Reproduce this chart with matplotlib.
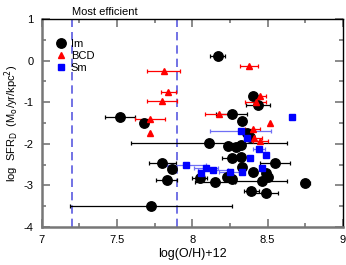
"""
SFR density vs. oxygen abundance for Im, BCD and Sm galaxies
"""
import matplotlib
matplotlib.use('Agg')
import matplotlib.pyplot as plt
from matplotlib.ticker import MultipleLocator

plt.rcParams['font.family'] = ['Liberation Sans', 'DejaVu Sans']
plt.rcParams['axes.unicode_minus'] = False

# Im galaxies: log(O/H)+12, log SFR_D, x error
im_oh = [8.17, 7.52, 7.68, 8.40, 8.435, 8.26, 8.33, 8.36, 8.38, 8.11, 8.24, 8.29,
         8.32, 8.26, 8.32, 8.55, 8.33, 8.40, 8.49, 8.50, 7.80, 7.865, 7.83, 8.05,
         8.15, 8.23, 8.26, 8.46, 8.75, 8.39, 8.49, 7.725]
im_sfr = [0.12, -1.36, -1.50, -0.84, -1.06, -1.27, -1.44, -1.75, -1.84, -1.98, -2.05, -2.07,
          -2.03, -2.35, -2.31, -2.47, -2.55, -2.67, -2.71, -2.79, -2.45, -2.61, -2.87, -2.81,
          -2.91, -2.79, -2.85, -2.89, -2.95, -3.13, -3.19, -3.50]
im_err = [0.05, 0.10, 0.0, 0.0, 0.08, 0.10, 0.0, 0.0, 0.0, 0.52, 0.0, 0.0,
          0.0, 0.06, 0.0, 0.10, 0.0, 0.0, 0.0, 0.0, 0.09, 0.0, 0.07, 0.05,
          0.13, 0.0, 0.0, 0.17, 0.03, 0.05, 0.08, 0.54]

# BCD galaxies
bcd_oh = [7.81, 7.84, 7.80, 7.72, 7.72, 8.375, 8.45, 8.42, 8.175, 8.515, 8.40, 8.41, 8.45]
bcd_sfr = [-0.25, -0.76, -0.97, -1.40, -1.75, -0.12, -0.84, -0.99, -1.27, -1.49, -1.63, -1.85, -1.93]
bcd_err = [0.11, 0.05, 0.10, 0.10, 0.0, 0.06, 0.04, 0.07, 0.09, 0.0, 0.05, 0.05, 0.05]

# Sm galaxies
sm_oh = [8.66, 8.32, 8.44, 8.49, 8.38, 8.46, 8.33, 8.36, 7.96, 8.09, 8.06, 8.14, 8.25]
sm_sfr = [-1.35, -1.69, -2.13, -2.27, -2.33, -2.59, -2.67, -1.86, -2.51, -2.59, -2.69, -2.62, -2.67]
sm_err = [0.0, 0.20, 0.04, 0.0, 0.0, 0.0, 0.0, 0.0, 0.13, 0.08, 0.0, 0.10, 0.07]

efficient_lines = [7.2, 7.9]

fig = plt.figure(figsize=(3.46, 2.65), dpi=100)
ax = fig.add_axes([0.121, 0.143, 0.870, 0.785])

for x in efficient_lines:
    ax.axvline(x, color='#5a5ae0', linestyle=(0, (5, 3)), linewidth=1.2, zorder=1)

ax.errorbar(im_oh, im_sfr, xerr=im_err, fmt='none', ecolor='black', elinewidth=0.9,
            capsize=1.5, capthick=0.9, zorder=2)
ax.errorbar(bcd_oh, bcd_sfr, xerr=bcd_err, fmt='none', ecolor='red', elinewidth=0.9,
            capsize=1.5, capthick=0.9, zorder=2)
ax.errorbar(sm_oh, sm_sfr, xerr=sm_err, fmt='none', ecolor='#6f6ff5', elinewidth=0.9,
            capsize=1.5, capthick=0.9, zorder=2)

ax.plot(im_oh, im_sfr, 'o', color='black', markersize=6.8, linestyle='none', label='Im', zorder=3)
ax.plot(bcd_oh, bcd_sfr, '^', color='red', markersize=5, linestyle='none', label='BCD', zorder=4)
ax.plot(sm_oh, sm_sfr, 's', color='blue', markersize=4.5, linestyle='none', label='Sm', zorder=4)

ax.set_xlim(7, 9)
ax.set_ylim(-4, 1)
ax.xaxis.set_minor_locator(MultipleLocator(0.25))
ax.yaxis.set_major_locator(MultipleLocator(1))
ax.yaxis.set_minor_locator(MultipleLocator(0.5))
ax.set_xticks([7, 7.5, 8, 8.5, 9])
ax.set_xticklabels(['7', '7.5', '8', '8.5', '9'])

ax.tick_params(which='both', direction='in', top=True, right=True, labelsize=8, pad=6)
ax.tick_params(which='major', length=6, width=1.2, color='#777777')
ax.tick_params(which='minor', length=3, width=1.2, color='#777777')

for side in ['left', 'bottom']:
    ax.spines[side].set_color('#777777')
    ax.spines[side].set_linewidth(1.8)
for side in ['top', 'right']:
    ax.spines[side].set_color('black')
    ax.spines[side].set_linewidth(1.0)

ax.set_xlabel('log(O/H)+12', fontsize=9, labelpad=2)
ax.set_ylabel(r'log  SFR$_{\rm D}$  (M$_{\rm o}$/yr/kpc$^{2}$)', fontsize=8, labelpad=2)

ax.text(7.2, 1.06, 'Most efficient', fontsize=8, ha='left', va='bottom', transform=ax.transData,
        clip_on=False)

ax.legend(loc='upper left', frameon=False, fontsize=8, handletextpad=0.35, labelspacing=0.15,
          borderaxespad=0.3, handlelength=1.0, bbox_to_anchor=(0.02, 0.94))

plt.savefig('out.png', dpi=100)
